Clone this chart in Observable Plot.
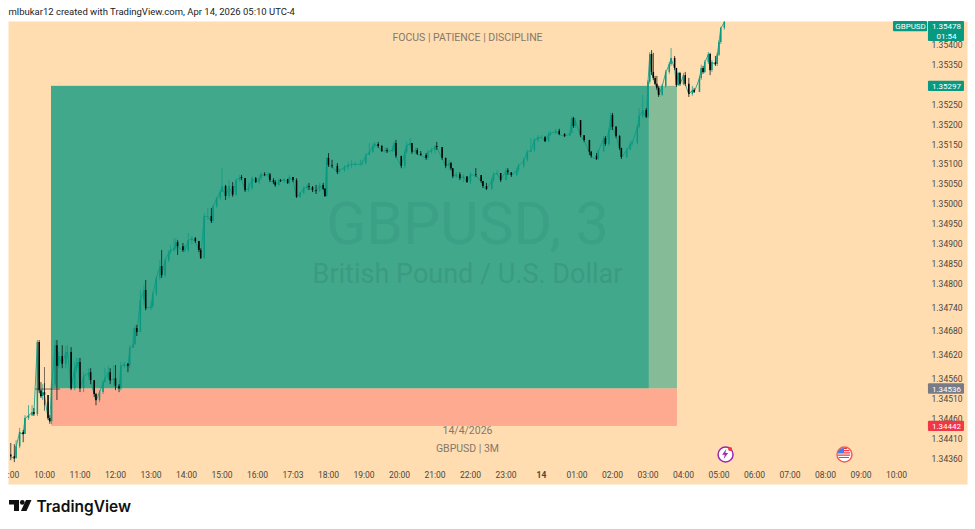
<!DOCTYPE html>
<html>
<head>
<meta charset="utf-8">
<script src="https://cdn.jsdelivr.net/npm/d3@7"></script>
<script src="https://cdn.jsdelivr.net/npm/@observablehq/plot@0.6"></script>
<style>html,body{margin:0;padding:0;background:#fff}svg{display:block}</style>
</head>
<body>
<div id="chart"></div>
<script>
// 3-minute bar number counted from 10:00; prices in 1e-5 units
const firstOpen = 134370;
const bars = [
-19,-17,-16,-14,-12,-11,-9,-7,-6,-4,
-3,-2,-1,0,2,3,4,6,7,8,
10,12,13,15,17,18,19,20,22,25,
26,28,29,31,33,34,36,37,39,40,
42,43,45,47,48,50,51,52,54,56,
57,60,61,63,65,66,68,70,71,73,
74,75,78,79,81,83,85,87,88,90,
92,94,95,97,99,100,102,104,106,108,
110,111,113,115,117,119,121,122,124,126,
127,129,130,132,133,135,137,138,140,142,
144,146,148,149,151,153,155,157,158,159,
160,162,165,166,169,171,173,175,178,179,
181,183,185,186,188,190,192,193,196,197,
198,201,203,204,206,207,209,210,212,215,
216,218,220,221,224,226,228,229,230,232,
234,236,238,240,243,246,247,249,252,253,
255,257,260,261,263,266,267,270,272,274,
276,278,280,282,284,285,288,290,293,296,
297,298,299,302,304,307,308,311,312,315,
316,318,319,320,322,324,325,328,330,331,
334,335,337,339,340,341,342,343,344,345,
346,348,350,352,353,355,356,357,358,360,
361,363,365,366,369,370,371,372,374,375,
376,378,379,380,381,383
];
const highs = [
134399,134396,134406,134437,134432,134469,134494,134494,134487,134658,
134658,134552,134547,134550,134502,134469,134557,134658,134658,134628,
134645,134643,134645,134640,134603,134613,134613,134613,134577,134587,
134587,134557,134525,134532,134557,134587,134593,134587,134595,134595,
134547,134603,134603,134600,134645,134688,134696,134696,134784,134796,
134809,134754,134779,134819,134859,134884,134864,134884,134897,134914,
134914,134909,134902,134897,134927,134920,134917,134907,134889,134977,
134990,134990,134997,135018,135035,135090,135048,135060,135055,135065,
135073,135073,135065,135053,135070,135068,135073,135080,135080,135080,
135078,135065,135060,135065,135063,135065,135060,135073,135068,135065,
135030,135045,135050,135053,135045,135048,135053,135053,135040,135118,
135128,135111,135103,135090,135098,135106,135111,135106,135111,135111,
135128,135153,135153,135156,135156,135148,135143,135141,135146,135156,
135161,135118,135136,135156,135166,135153,135141,135141,135133,135128,
135136,135141,135148,135156,135136,135116,135111,135106,135090,135080,
135080,135075,135068,135080,135090,135068,135058,135053,135065,135080,
135085,135073,135090,135090,135078,135090,135101,135116,135136,135166,
135166,135173,135173,135171,135181,135184,135189,135189,135178,135184,
135221,135219,135216,135211,135173,135161,135133,135128,135136,135171,
135171,135191,135229,135229,135196,135173,135141,135141,135158,135161,
135199,135241,135274,135241,135312,135382,135387,135380,135322,135322,
135297,135302,135337,135357,135392,135372,135342,135332,135332,135329,
135332,135317,135297,135292,135322,135350,135347,135362,135382,135380,
135362,135372,135380,135412,135445,135463
];
const lows = [
134356,134351,134361,134386,134401,134422,134457,134467,134467,134467,
134525,134512,134507,134494,134457,134447,134447,134542,134507,134587,
134587,134587,134613,134532,134532,134577,134587,134527,134527,134557,
134547,134515,134494,134502,134522,134552,134557,134547,134542,134532,
134527,134532,134587,134577,134587,134638,134645,134668,134678,134746,
134733,134733,134738,134769,134809,134814,134816,134854,134874,134879,
134884,134872,134879,134879,134879,134899,134902,134879,134862,134862,
134960,134952,134952,134990,135010,135030,135010,135015,135018,135020,
135055,135060,135030,135030,135035,135053,135050,135060,135070,135065,
135055,135050,135043,135045,135055,135053,135050,135050,135055,135015,
135015,135025,135035,135035,135030,135025,135030,135035,135018,135018,
135093,135090,135075,135075,135080,135085,135090,135096,135096,135098,
135098,135123,135128,135141,135141,135131,135128,135128,135131,135131,
135116,135090,135090,135126,135146,135126,135126,135123,135121,135111,
135111,135126,135128,135136,135111,135090,135085,135085,135065,135065,
135060,135055,135053,135050,135068,135053,135040,135035,135035,135055,
135073,135055,135060,135073,135068,135070,135080,135090,135106,135131,
135131,135156,135166,135156,135156,135171,135176,135173,135168,135176,
135178,135191,135191,135168,135156,135123,135116,135111,135111,135131,
135146,135146,135186,135186,135166,135136,135113,135116,135136,135146,
135151,135191,135216,135216,135216,135302,135324,135312,135299,135287,
135269,135272,135292,135327,135347,135337,135294,135297,135297,135299,
135297,135269,135272,135279,135282,135312,135327,135329,135352,135324,
135332,135347,135347,135372,135402,135438
];
const closes = [
134366,134361,134391,134427,134422,134462,134469,134477,134472,134653,
134532,134517,134527,134520,134462,134454,134547,134645,134593,134618,
134598,134628,134628,134537,134587,134593,134603,134537,134567,134577,
134557,134522,134507,134527,134552,134562,134577,134557,134562,134542,
134537,134593,134598,134593,134638,134648,134688,134678,134759,134784,
134738,134743,134774,134814,134844,134821,134859,134879,134884,134889,
134904,134894,134884,134884,134909,134914,134907,134884,134864,134970,
134970,134957,134995,135015,135030,135045,135020,135045,135023,135060,
135068,135065,135035,135040,135065,135055,135065,135075,135073,135075,
135060,135055,135048,135060,135058,135063,135053,135068,135060,135018,
135028,135040,135045,135043,135035,135033,135048,135038,135020,135116,
135098,135096,135080,135085,135093,135098,135101,135101,135101,135103,
135123,135131,135146,135151,135146,135133,135136,135133,135136,135153,
135121,135096,135131,135148,135153,135131,135136,135126,135123,135116,
135131,135136,135146,135143,135116,135096,135103,135090,135070,135075,
135065,135070,135055,135075,135073,135058,135045,135038,135060,135075,
135078,135060,135085,135080,135073,135085,135096,135111,135131,135136,
135161,135168,135168,135158,135176,135178,135184,135176,135171,135178,
135216,135196,135211,135173,135161,135131,135121,135113,135133,135166,
135151,135186,135224,135194,135171,135141,135118,135136,135151,135153,
135194,135221,135236,135219,135307,135377,135332,135317,135302,135292,
135274,135297,135332,135352,135367,135342,135299,135329,135302,135324,
135302,135277,135287,135282,135317,135342,135332,135357,135377,135337,
135357,135352,135375,135407,135443,135458
];

const priceTicks = [135400,135350,135250,135200,135150,135100,135050,135000,134950,134900,134850,134800,134740,134680,134620,134560,134510,134460,134410,134360];
const timeBars = [-17.5,0,20,40,60,80,100,120,140,160,180,200,220,240,260,300,320,340,360,380,400,420,440,460,480];
const timeLabels = [":00","10:00","11:00","12:00","13:00","14:00","15:00","16:00","17:03","18:00","19:00","20:00","21:00","22:00","23:00","01:00","02:00","03:00","04:00","05:00","06:00","07:00","08:00","09:00","10:00"];
const dayBars = [280];
const dayLabels = ["14"];

const target = 135297, entry = 134536, stop = 134442;
const boxStart = 3.94, boxSplit = 340.8, boxEnd = 356.6;
const eventBars = [383.7, 450.7];

const candles = bars.map((b,i)=>({b, o: i ? closes[i-1] : firstOpen, h: highs[i], l: lows[i], c: closes[i]}));
const timeRows = timeBars.map((b,i)=>({b, t: timeLabels[i]}));
const dayRows = dayBars.map((b,i)=>({b, t: dayLabels[i]}));
const TEAL = "#089981", INK = "#4b4740";
const candleColor = d => d.c >= d.o ? TEAL : "#000000";
const midBar = 238.3, axisBar = 508.2, FONT = "Roboto";

function logoMark() {
  const g = d3.create("svg:g").attr("fill", "#111");
  g.append("path").attr("d", "M9 500h10v11h-5v-6.5h-5z");
  g.append("circle").attr("cx", 22.3).attr("cy", 502.4).attr("r", 2.4);
  g.append("path").attr("d", "M26 500h5.5l-5 11h-5.6z");
  return g.node();
}
function iconMark(index, {x}) {
  const g = d3.create("svg:g");
  const a = g.append("g").attr("transform", `translate(${x(eventBars[0])},454)`);
  a.append("path").attr("d", "M1.3-5L-3 .8H-.3L-1.3 5 3-.9H.3z").attr("fill", "#9c27b0");
  a.append("circle").attr("cx", 5).attr("cy", -5).attr("r", 2).attr("fill", "#f23645");
  const b = g.append("g").attr("transform", `translate(${x(eventBars[1])},454)`);
  b.append("path").attr("d", "M-6-2.2A6.3 6.3 0 0 1 0-6V-.5H-6z").attr("fill", "#3f7fe8");
  b.append("path").attr("d", "M0-5.7H3M0-3.4H5.4M0-1.1H6.2M-6 1.2H6.2M-5 3.5H5").attr("stroke", "#f23645").attr("stroke-width", 1.2).attr("fill", "none");
  return g.node();
}

const badge = (y1, y2, x1, x2, fill) => Plot.rect([0], {x1, x2, y1, y2, fill, rx: 1});
const note = (text, y, fontSize, fill) => Plot.text([text], {x: midBar, y, text: d => d, fontSize, fill, fontFamily: FONT, textAnchor: "middle"});

const chart = Plot.plot({
  width: 975, height: 529,
  marginLeft: 8, marginRight: 8, marginTop: 21, marginBottom: 45,
  style: {background: "#ffffff"},
  x: {domain: [-20.28, 520], axis: null},
  y: {domain: [134296, 135460], axis: null},
  marks: [
    Plot.frame({fill: "#FFDDB0", stroke: "none"}),
    Plot.rect([0], {x1: boxStart, x2: boxSplit, y1: entry, y2: target, fill: "#42A88C"}),
    Plot.rect([0], {x1: boxSplit, x2: boxEnd, y1: entry, y2: target, fill: "#85BC97"}),
    Plot.rect([0], {x1: boxStart, x2: boxEnd, y1: stop, y2: entry, fill: "#FDAA90"}),
    note("GBPUSD, 3", 134947, 59, "#3CA086"),
    note("British Pound / U.S. Dollar", 134824, 27, "#3A9B82"),
    note("FOCUS | PATIENCE | DISCIPLINE", 135420, 10.5, "#85786A"),
    note("14/4/2026", 134432, 10.5, "#85786A"),
    note("GBPUSD | 3M", 134386, 10.5, "#85786A"),
    Plot.line(candles, {x: "b", y: "c", stroke: TEAL, strokeWidth: 0.8, clip: true}),
    Plot.ruleX(candles, {x: "b", y1: "l", y2: "h", stroke: candleColor, strokeWidth: 0.7, clip: true}),
    Plot.ruleX(candles, {x: "b", y1: "o", y2: "c", stroke: candleColor, strokeWidth: 1.5, clip: true}),
    Plot.ruleY([entry], {x1: -5, x2: 9, stroke: "#222", strokeWidth: 0.6}),
    Plot.ruleX([0], {y1: 134480, y2: 134590, stroke: "#222", strokeWidth: 0.6}),
    Plot.text(priceTicks, {y: d => d, text: d => (d / 1e5).toFixed(5), frameAnchor: "right", dx: -5, textAnchor: "end", fontSize: 8.5, fill: INK, fontFamily: FONT}),
    Plot.text(timeRows, {x: "b", text: "t", frameAnchor: "bottom", dy: -7, fontSize: 8.5, fill: INK, fontFamily: FONT}),
    Plot.text(dayRows, {x: "b", text: "t", frameAnchor: "bottom", dy: -7, fontSize: 8.5, fontWeight: "bold", fill: INK, fontFamily: FONT}),
    badge(135434, 135460, 478.3, 497.5, TEAL),
    badge(135410, 135460, 498, 518.3, TEAL),
    badge(target - 13, target + 13, 498, 518.3, TEAL),
    badge(entry - 13, entry + 13, 498, 518.3, "#787B86"),
    badge(stop - 13, stop + 13, 498, 518.3, "#F23645"),
    Plot.text(["GBPUSD"], {x: 487.9, y: 135447, text: d => d, fontSize: 8, fill: "#fff", fontFamily: FONT}),
    Plot.text(["1.35478"], {x: axisBar, y: 135447, text: d => d, fontSize: 8, fill: "#fff", fontFamily: FONT}),
    Plot.text(["01:54"], {x: axisBar, y: 135423, text: d => d, fontSize: 8, fill: "#fff", fontFamily: FONT}),
    Plot.text([target], {x: axisBar, y: d => d, text: d => (d / 1e5).toFixed(5), fontSize: 8, fill: "#fff", fontFamily: FONT}),
    Plot.text([entry], {x: axisBar, y: d => d, text: d => (d / 1e5).toFixed(5), fontSize: 8, fill: "#fff", fontFamily: FONT}),
    Plot.text([stop], {x: axisBar, y: d => d, text: d => (d / 1e5).toFixed(5), fontSize: 8, fill: "#fff", fontFamily: FONT}),
    Plot.dot([eventBars[0]], {x: d => d, frameAnchor: "bottom", dy: -30, r: 7.5, fill: "#fff", stroke: "#9c27b0", strokeWidth: 1.5}),
    Plot.dot([eventBars[1]], {x: d => d, frameAnchor: "bottom", dy: -30, r: 7.5, fill: "#fff", stroke: "#f0605a", strokeWidth: 1.5}),
    iconMark,
    Plot.text(["mlbukar12 created with TradingView.com, Apr 14, 2026 05:10 UTC-4"], {text: d => d, frameAnchor: "top-left", dy: -13, fontSize: 9.5, fill: "#222", fontFamily: FONT, textAnchor: "start"}),
    Plot.text(["TradingView"], {text: d => d, frameAnchor: "bottom-left", dx: 28, dy: 27, fontSize: 15.5, fontWeight: 600, fill: "#111", fontFamily: "Inter", textAnchor: "start"}),
    logoMark
  ]
});
document.getElementById("chart").append(chart);
</script>
</body>
</html>
